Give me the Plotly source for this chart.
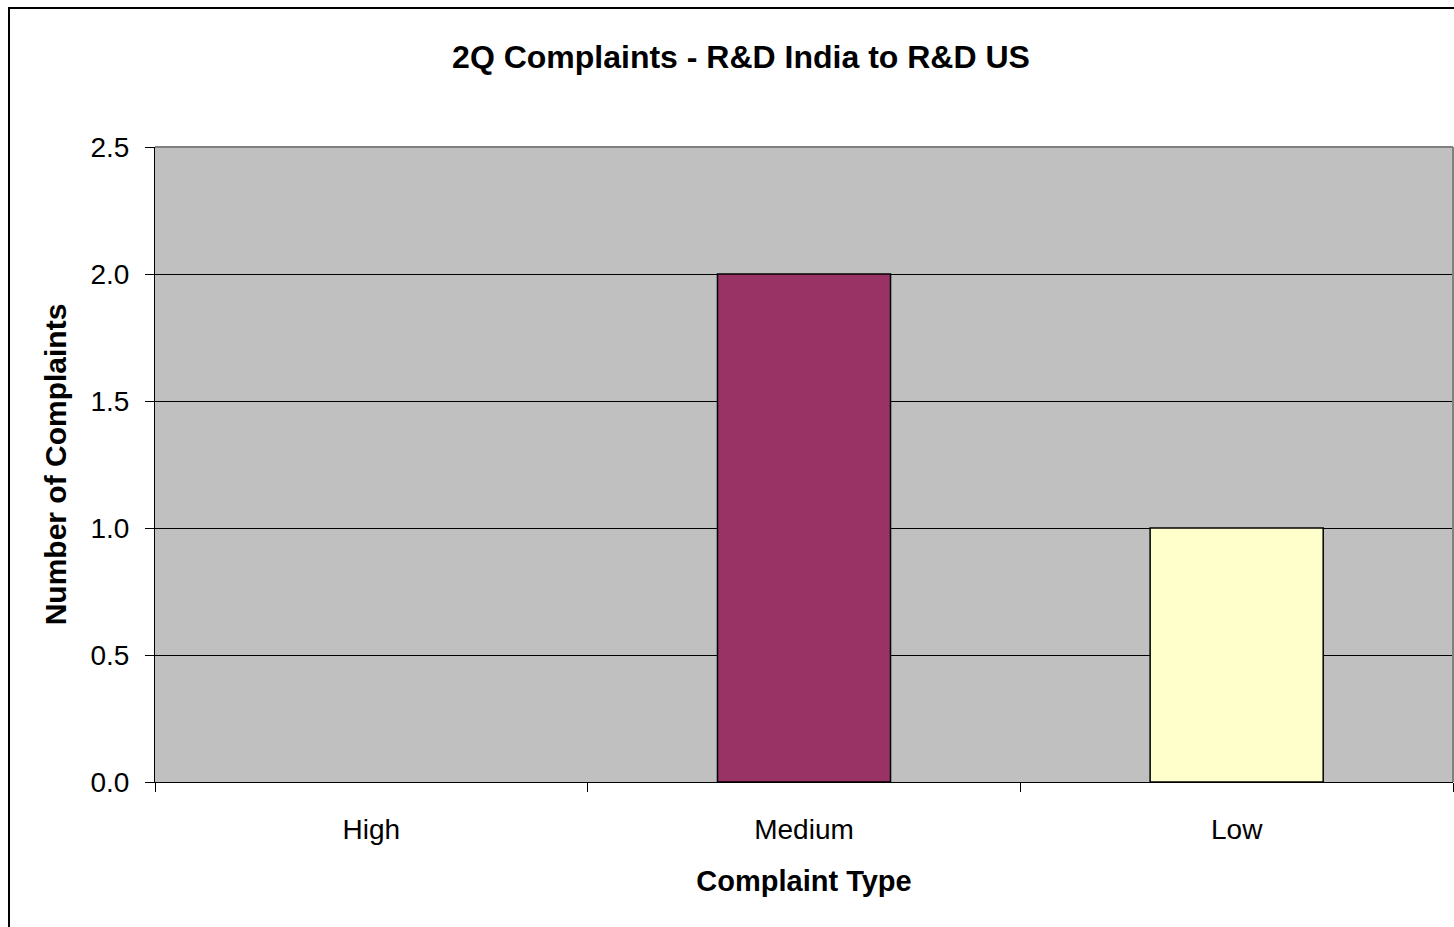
import plotly.graph_objects as go

# Complaint counts by severity
categories = ["High", "Medium", "Low"]
complaints = [0, 2, 1]
bar_colors = ["#9999FF", "#993366", "#FFFFCC"]
y_ticks = [0.0, 0.5, 1.0, 1.5, 2.0, 2.5]
y_tick_labels = ["0.0", "0.5", "1.0", "1.5", "2.0", "2.5"]

W, H = 1454, 927
L, R, T, B = 155, 1, 147, 145

# zero-height bars get no outline so they don't double the axis line
outline_widths = [1.5 if v > 0 else 0 for v in complaints]

fig = go.Figure(
    go.Bar(
        x=categories,
        y=complaints,
        width=0.4,
        marker=dict(color=bar_colors, line=dict(color="#000000", width=outline_widths)),
        showlegend=False,
    )
)

font = "Liberation Sans, Arial, sans-serif"

fig.update_layout(
    width=W,
    height=H,
    margin=dict(l=L, r=R, t=T, b=B, pad=0),
    paper_bgcolor="#FFFFFF",
    plot_bgcolor="#C0C0C0",
    font=dict(family=font, color="#000000"),
    title=dict(
        text="<b>2Q Complaints - R&D India to R&D US</b>",
        font=dict(size=32, family=font, color="#000000"),
        x=741 / W,
        xanchor="center",
        y=1 - 57 / H,
        yanchor="middle",
    ),
    bargap=0.6,
)

fig.update_xaxes(
    type="category",
    range=[-0.5, 2.5],
    showgrid=False,
    showline=True,
    linecolor="#000000",
    linewidth=1,
    ticks="outside",
    tickson="boundaries",
    ticklen=9,
    tickcolor="#000000",
    tickwidth=1,
    tickfont=dict(size=28, family=font),
    ticklabelstandoff=22,
    title=dict(text="<b>Complaint Type</b>", font=dict(size=29, family=font), standoff=27),
    zeroline=False,
)

fig.update_yaxes(
    range=[0, 2.5],
    tickvals=y_ticks,
    ticktext=y_tick_labels,
    showgrid=True,
    gridcolor="#000000",
    gridwidth=1,
    showline=True,
    linecolor="#000000",
    linewidth=1,
    ticks="outside",
    ticklen=9,
    tickcolor="#000000",
    tickwidth=1,
    tickfont=dict(size=28, family=font),
    ticklabelstandoff=10,
    title=dict(text="<b>Number of Complaints</b>", font=dict(size=30, family=font), standoff=14),
    zeroline=False,
)

pw = W - L - R
ph = H - T - B

shapes = [
    # gray frame along the top and right of the plot area
    dict(type="line", xref="paper", yref="paper", x0=0, x1=1, y0=1, y1=1,
         line=dict(color="#808080", width=2)),
    dict(type="line", xref="paper", yref="paper", x0=1, x1=1, y0=0, y1=1,
         line=dict(color="#808080", width=2)),
    # chart area border
    dict(type="rect", xref="paper", yref="paper",
         x0=(9 - L) / pw, x1=(W + 20 - L) / pw,
         y0=-(H + 20 - (T + ph)) / ph, y1=(T + ph - 8) / ph,
         line=dict(color="#000000", width=2), fillcolor="rgba(0,0,0,0)", layer="above"),
]
fig.update_layout(shapes=shapes)

fig.write_html("out.html")
